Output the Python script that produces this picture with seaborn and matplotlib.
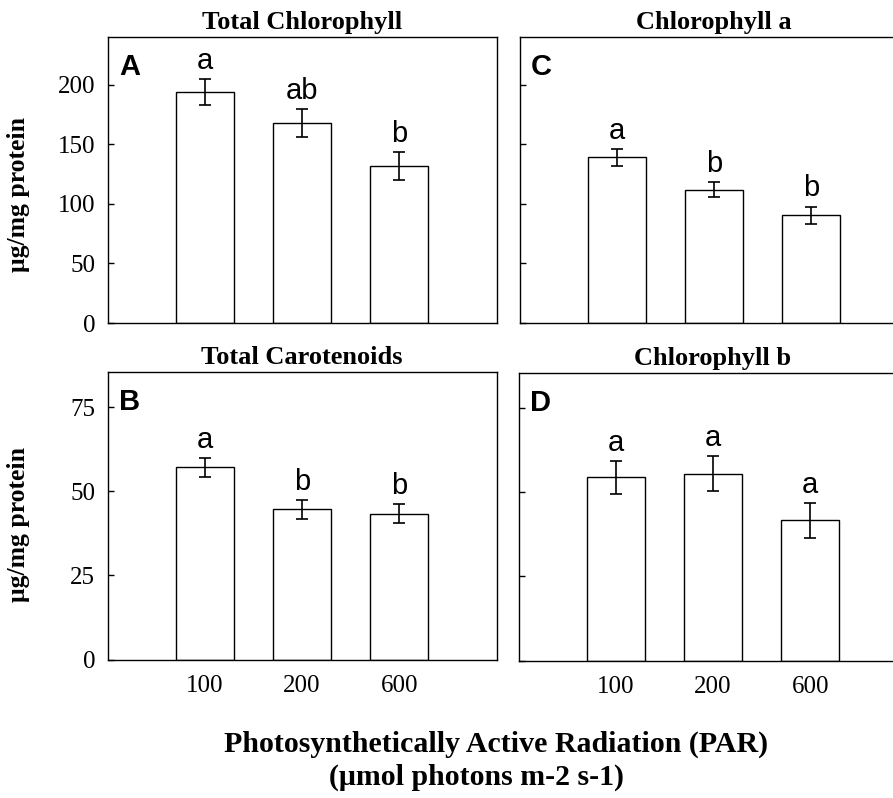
import matplotlib
matplotlib.use("Agg")
import matplotlib.pyplot as plt
import seaborn as sns
import pandas as pd

# ---- data ----
par_levels = ["100", "200", "600"]

total_chl = [194, 168, 132]
total_chl_err = [11, 11.5, 11.6]
total_chl_sig = ["a", "ab", "b"]

chl_a = [139, 112, 90.5]
chl_a_err = [7, 6.3, 7.2]
chl_a_sig = ["a", "b", "b"]

carot = [57.2, 44.7, 43.4]
carot_err = [2.8, 2.8, 2.9]
carot_sig = ["a", "b", "b"]

chl_b = [54.5, 55.6, 41.7]
chl_b_err = [4.9, 5.1, 5.2]
chl_b_sig = ["a", "a", "a"]

titles = ["Total Chlorophyll", "Chlorophyll a", "Total Carotenoids", "Chlorophyll b"]
panel_letters = ["A", "C", "B", "D"]
y_label = "\u03bcg/mg protein"
x_label_1 = "Photosynthetically Active Radiation (PAR)"
x_label_2 = "(\u03bcmol photons m-2 s-1)"

sns.set_style("ticks")
plt.rcParams["font.family"] = ["Liberation Serif", "DejaVu Serif"]
for k in ["text.color", "axes.labelcolor", "xtick.color", "ytick.color", "axes.edgecolor"]:
    plt.rcParams[k] = "black"

W, H = 893, 798
fig = plt.figure(figsize=(W / 100, H / 100), dpi=100)


def px_axes(left, top, width, height):
    return fig.add_axes([left / W, 1 - (top + height) / H, width / W, height / H])


axA = px_axes(107.5, 37, 389, 286)
axC = px_axes(519.5, 37, 389, 286)
axB = px_axes(107.5, 372, 389, 287.5)
axD = px_axes(518.5, 373, 389, 287.5)

panels = [
    (axA, total_chl, total_chl_err, total_chl_sig, (0, 240), [0, 50, 100, 150, 200], True, False),
    (axC, chl_a, chl_a_err, chl_a_sig, (0, 240), [0, 50, 100, 150, 200], False, False),
    (axB, carot, carot_err, carot_sig, (0, 85.5), [0, 25, 50, 75], True, True),
    (axD, chl_b, chl_b_err, chl_b_sig, (0, 85.5), [0, 25, 50, 75], False, True),
]

for i, (ax, vals, errs, sig, ylim, yticks, show_y, show_x) in enumerate(panels):
    df = pd.DataFrame({"PAR": par_levels, "value": vals})
    sns.barplot(data=df, x="PAR", y="value", order=par_levels, color="white",
                saturation=1, edgecolor="black", linewidth=1.0, width=0.6,
                errorbar=None, ax=ax)
    xs = [p.get_x() + p.get_width() / 2 for p in ax.patches]
    ax.errorbar(xs, vals, yerr=errs, fmt="none", ecolor="black",
                elinewidth=1.2, capsize=4, capthick=1.2)
    for x, v, e, s in zip(xs, vals, errs, sig):
        ax.annotate(s, (x, v + e), xytext=(0, 3), textcoords="offset points",
                    ha="center", va="bottom", fontsize=21, color="black",
                    family=["Liberation Sans", "DejaVu Sans"])
    ax.set_xlim(-1, 3)
    ax.set_ylim(*ylim)
    ax.set_yticks(yticks)
    ax.tick_params(axis="y", direction="in", length=4, width=1, pad=9,
                   labelsize=18, labelleft=show_y, colors="black")
    ax.tick_params(axis="x", length=0, pad=11, labelsize=18, labelbottom=show_x,
                   colors="black")
    for sp in ax.spines.values():
        sp.set_visible(True)
        sp.set_linewidth(1.0)
        sp.set_color("black")
    ax.set_xlabel("")
    ax.set_ylabel("")
    ax.set_title(titles[i], fontsize=19, fontweight="bold", pad=6, color="black")
    ax.text(0.03, 0.945, panel_letters[i], transform=ax.transAxes, ha="left",
            va="top", fontsize=21, fontweight="bold", color="black",
            family=["Liberation Sans", "DejaVu Sans"])
    if show_y:
        ax.set_ylabel(y_label, fontsize=18.5, fontweight="bold", color="black")
        ax.yaxis.set_label_coords(-0.198, 0.45 if i == 0 else 0.47)

fig.text(496 / W, 1 - 752 / H, x_label_1, ha="center", va="baseline",
         fontsize=21.5, fontweight="bold", color="black")
fig.text(476 / W, 1 - 785 / H, x_label_2, ha="center", va="baseline",
         fontsize=21.5, fontweight="bold", color="black")

fig.savefig("out.png", dpi=100, facecolor="white")
